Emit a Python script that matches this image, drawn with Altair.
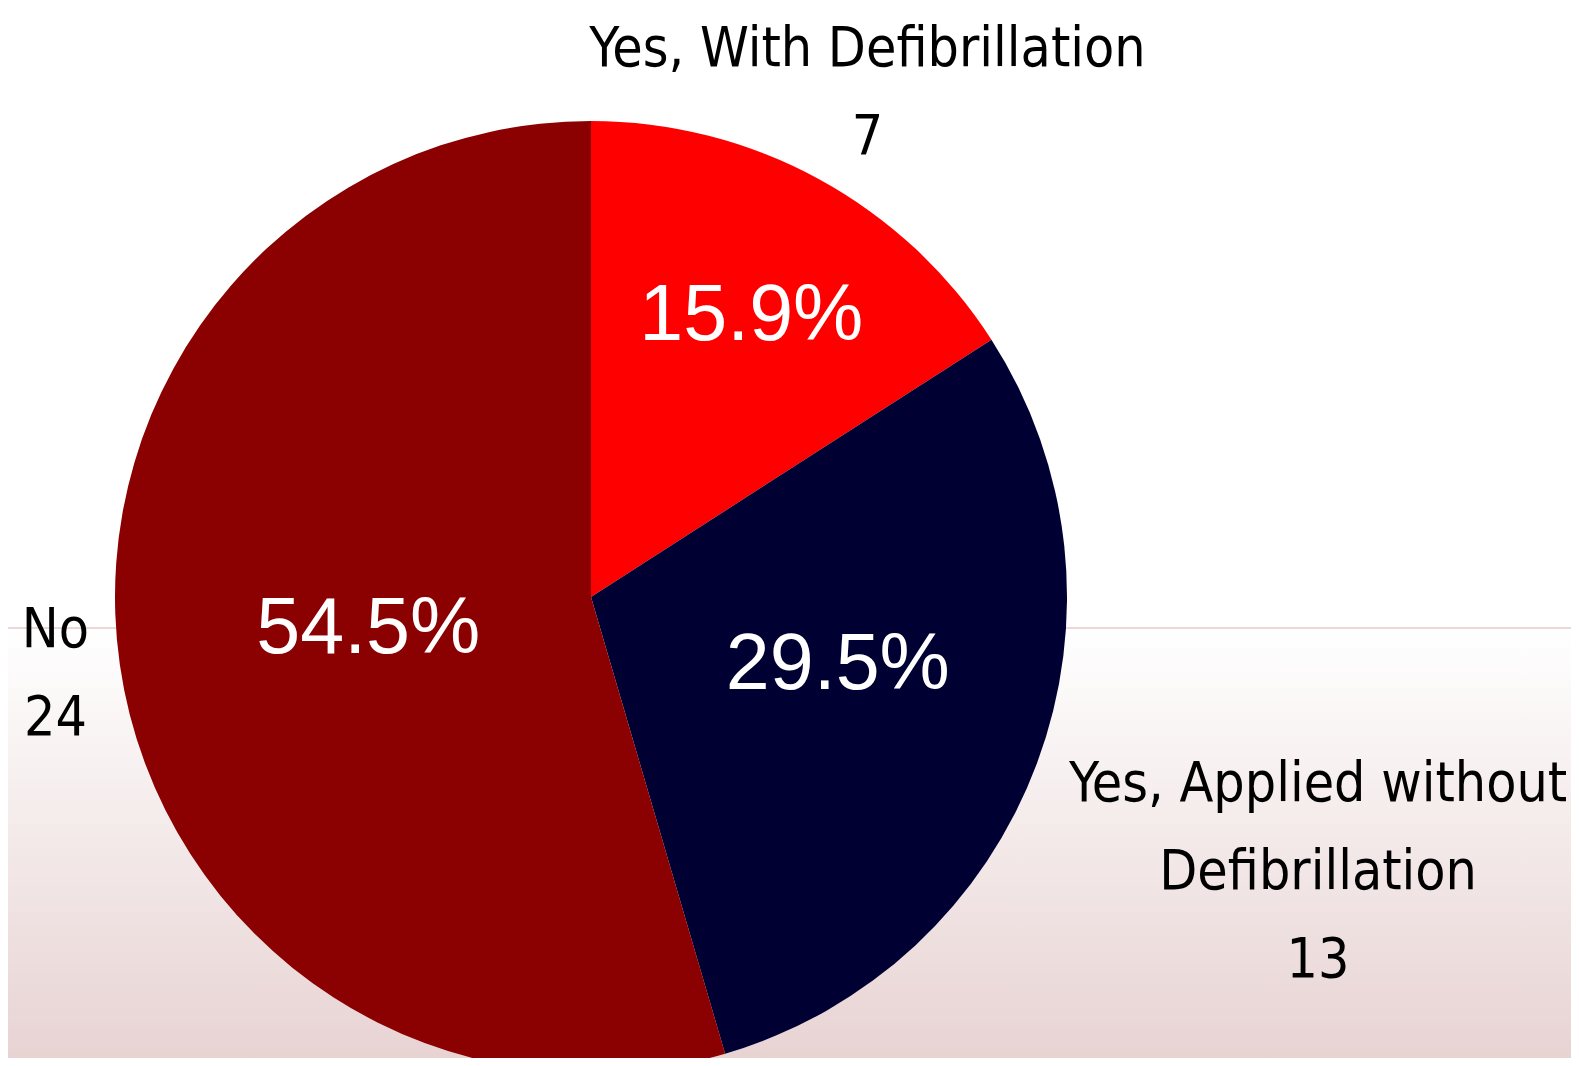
import altair as alt
import pandas as pd

categories = ["Yes, With Defibrillation", "Yes, Applied without Defibrillation", "No"]
counts = [7, 13, 24]
label_names = ["Yes, With Defibrillation", "Yes, Applied without\nDefibrillation", "No"]
colors = ["#ff0000", "#000033", "#8b0000"]

df = pd.DataFrame({"category": categories, "count": counts, "name": label_names})

W, H = 1563, 1050
CX, CY = 583, 589
R = 476
LH = 88
# label placement styling per slice: (radius, dx, dy)
pct_style = {categories[0]: (322, 6, 2), categories[1]: (256, 7, -21), categories[2]: (225, 0, 0)}
out_style = {categories[0]: (577, 0, -LH / 2 + 2), categories[1]: (776, 0, -LH + 4), categories[2]: (541, 0, -LH / 2)}

LABEL_FONT = "Noto Sans ExtraCondensed, Noto Sans Condensed, DejaVu Sans Condensed, sans-serif"

base = (
    alt.Chart(df)
    .transform_window(rank="row_number()")
    .transform_joinaggregate(total="sum(count)")
    .transform_calculate(
        pct="format(datum.count / datum.total, '.1%')",
        outer="datum.name + '\\n' + datum.count",
    )
    .encode(
        theta=alt.Theta("count:Q", stack=True),
        order=alt.Order("rank:Q"),
        x=alt.value(CX),
        y=alt.value(CY),
    )
)

arcs = base.mark_arc(outerRadius=R).encode(
    color=alt.Color("category:N", scale=alt.Scale(domain=categories, range=colors), legend=None)
)

text_layers = []
for cat in categories:
    sel = alt.datum.category == cat
    r, dx, dy = pct_style[cat]
    text_layers.append(
        base.mark_text(
            font="Liberation Sans", fontSize=79, color="white", baseline="middle", align="center",
            dx=dx, dy=dy,
        ).encode(
            text=alt.when(sel).then(alt.Text("pct:N")).otherwise(alt.value("")),
            radius=alt.value(r),
        )
    )
    r, dx, dy = out_style[cat]
    text_layers.append(
        base.mark_text(
            font=LABEL_FONT, fontSize=55, color="black", baseline="middle", align="center",
            lineBreak="\n", lineHeight=LH, dx=dx, dy=dy,
        ).encode(
            text=alt.when(sel).then(alt.Text("outer:N")).otherwise(alt.value("")),
            radius=alt.value(r),
        )
    )

one = alt.Data(values=[{"a": 1}])
bg = alt.Chart(one).mark_rect(
    fill=alt.Gradient(
        gradient="linear",
        stops=[alt.GradientStop(color="#ffffff", offset=0), alt.GradientStop(color="#e8d3d3", offset=1)],
        x1=0, x2=0, y1=0, y2=1,
    )
).encode(x=alt.value(0), x2=alt.value(W), y=alt.value(620), y2=alt.value(H))

line = alt.Chart(one).mark_rule(color="#dcaeae", strokeWidth=1).encode(
    x=alt.value(0), x2=alt.value(W), y=alt.value(620)
)

chart = (
    alt.layer(bg, line, arcs, *text_layers)
    .properties(width=W, height=H, autosize=alt.AutoSizeParams(type="none"), padding=0)
    .configure_view(stroke=None)
)

chart.save("out.html", embed_options={"renderer": "svg", "actions": False})
